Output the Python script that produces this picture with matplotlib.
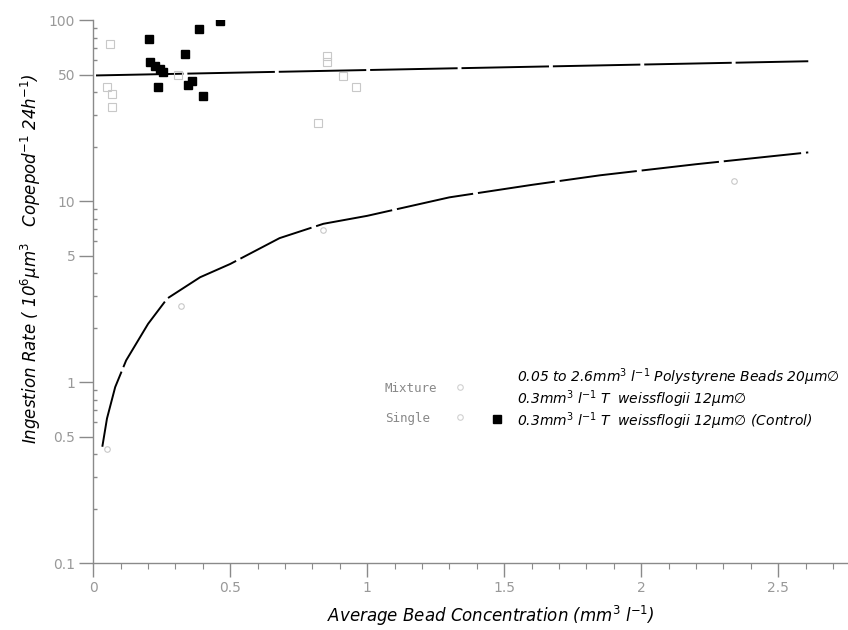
import matplotlib
matplotlib.use("Agg")
import matplotlib.pyplot as plt
from matplotlib.ticker import FixedLocator, MultipleLocator, LogLocator, NullFormatter

# single diet (control) - filled squares
single_x = [0.204, 0.208, 0.226, 0.245, 0.255, 0.237, 0.336, 0.347, 0.361, 0.387, 0.401, 0.463]
single_y = [78.5, 58.6, 55.7, 53.6, 52.0, 43.0, 65.0, 44.0, 46.0, 89.0, 38.0, 99.0]

# mixture, diatom ingestion - open squares (faint)
mix_x = [0.06, 0.05, 0.07, 0.07, 0.31, 0.853, 0.853, 0.91, 0.96, 0.82]
mix_y = [74.0, 43.0, 39.0, 33.0, 50.0, 63.0, 59.0, 49.0, 43.0, 27.0]

# mixture, bead ingestion - faint circles
bead_x = [0.05, 0.32, 0.84, 2.34]
bead_y = [0.43, 2.65, 6.9, 13.0]

# fitted curves
diatom_fit_x = [0.01, 2.61]
diatom_fit_y = [49.5, 59.3]
bead_fit_x = [0.033, 0.05, 0.08, 0.12, 0.2, 0.27, 0.39, 0.5, 0.68, 0.84, 1.0, 1.3, 1.6, 1.85, 2.2, 2.61]
bead_fit_y = [0.44, 0.63, 0.94, 1.32, 2.1, 2.9, 3.8, 4.5, 6.25, 7.5, 8.3, 10.5, 12.3, 13.9, 16.0, 18.6]

y_ticks = [0.1, 0.5, 1, 5, 10, 50, 100]
y_ticklabels = ["0.1", "0.5", "1", "5", "10", "50", "100"]
x_ticks = [0, 0.5, 1, 1.5, 2, 2.5]
x_ticklabels = ["0", "0.5", "1", "1.5", "2", "2.5"]

fig = plt.figure(figsize=(8.48, 6.30), dpi=100)
ax = fig.add_axes([0.110, 0.106, 0.890, 0.862])

ax.plot(diatom_fit_x, diatom_fit_y, color="black", lw=1.4, ls=(0, (45, 2)))
ax.plot(bead_fit_x, bead_fit_y, color="black", lw=1.4, ls=(0, (40, 2.5)))

ax.plot(mix_x, mix_y, ls="none", marker="s", ms=6, mfc="none", mec="#c8c8c8", mew=0.8)
ax.plot(bead_x, bead_y, ls="none", marker="o", ms=4, mfc="none", mec="#c8c8c8", mew=0.8)
ax.plot(single_x, single_y, ls="none", marker="s", ms=6, color="black")

ax.set_yscale("log")
ax.set_ylim(0.1, 100)
ax.set_xlim(0, 2.755)

ax.yaxis.set_major_locator(FixedLocator(y_ticks))
ax.set_yticklabels(y_ticklabels)
ax.yaxis.set_minor_locator(LogLocator(base=10, subs=[2, 3, 4, 6, 7, 8, 9]))
ax.yaxis.set_minor_formatter(NullFormatter())
ax.xaxis.set_major_locator(FixedLocator(x_ticks))
ax.set_xticklabels(x_ticklabels)
ax.xaxis.set_minor_locator(MultipleLocator(0.1))

for side in ["top", "right"]:
    ax.spines[side].set_visible(False)
for side in ["left", "bottom"]:
    ax.spines[side].set_color("#8a8a8a")
    ax.spines[side].set_linewidth(1.0)

ax.tick_params(which="major", length=10, width=1.0, color="#8a8a8a", labelcolor="#999999", labelsize=10, pad=3)
ax.tick_params(axis="y", which="minor", direction="in", length=3, width=1.0, color="#8a8a8a")
ax.tick_params(axis="x", which="minor", direction="out", length=4, width=0.8, color="#8a8a8a")

ax.set_ylabel(r"Ingestion Rate ( 10$^{6}$$\mu$m$^{3}$   Copepod$^{-1}$ 24h$^{-1}$)",
              fontsize=12, fontstyle="italic")
ax.yaxis.set_label_coords(-0.066, 0.56)
fig.text(0.579, 0.022, r"Average Bead Concentration (mm$^{3}$ l$^{-1}$)",
         fontsize=12, fontstyle="italic", ha="center", va="center")

# legend drawn by hand like the original
fig.text(0.454, 0.383, "Mixture", fontsize=9, color="#888888", family="DejaVu Sans Mono", va="center")
fig.text(0.454, 0.335, "Single", fontsize=9, color="#888888", family="DejaVu Sans Mono", va="center")
fig.text(0.610, 0.401, r"0.05 to 2.6mm$^{3}$ l$^{-1}$ Polystyrene Beads 20$\mu$m$\varnothing$",
         fontsize=10, fontstyle="italic", va="center")
fig.text(0.610, 0.366, r"0.3mm$^{3}$ l$^{-1}$ T  weissflogii 12$\mu$m$\varnothing$",
         fontsize=10, fontstyle="italic", va="center")
fig.text(0.610, 0.331, r"0.3mm$^{3}$ l$^{-1}$ T  weissflogii 12$\mu$m$\varnothing$ (Control)",
         fontsize=10, fontstyle="italic", va="center")
fig.lines.append(plt.Line2D([0.586], [0.335], transform=fig.transFigure, marker="s", ms=6,
                            color="black", ls="none"))
fig.lines.append(plt.Line2D([0.543, 0.543], [0.386, 0.338], transform=fig.transFigure, marker="o", ms=4,
                            mfc="none", mec="#d0d0d0", mew=0.8, ls="none"))

fig.savefig("out.png", dpi=100)
